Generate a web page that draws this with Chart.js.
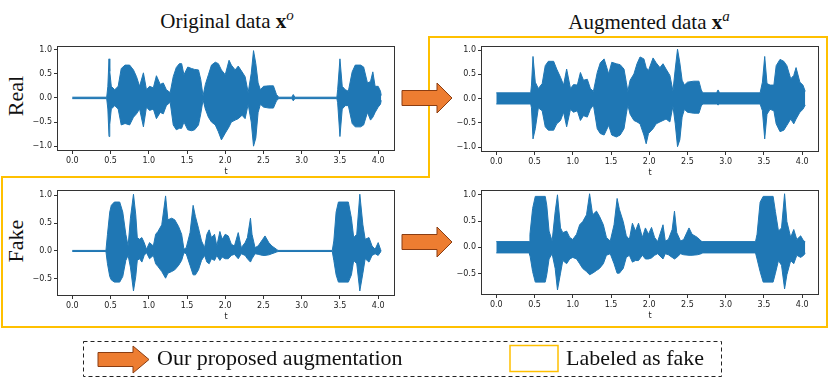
<!DOCTYPE html>
<html>
<head>
<meta charset="utf-8">
<script src="https://cdn.jsdelivr.net/npm/chart.js@4.4.1/dist/chart.umd.min.js"></script>
<style>
  body { margin: 0; background: #fff; }
  #fig { position: relative; width: 830px; height: 379px; overflow: hidden; background: #fff; }
  canvas { position: absolute; }
  .serif { position: absolute; font-family: "Liberation Serif", "Times New Roman", serif; color: #111; white-space: nowrap; }
  .title { font-size: 21px; line-height: 21px; text-align: center; width: 300px; }
  .title sup { font-size: 15px; font-style: italic; vertical-align: 8px; line-height: 0; }
  .side { font-size: 22px; line-height: 22px; transform: translate(-50%, -50%) rotate(-90deg); }
  .leg { font-size: 22px; line-height: 22px; }
  svg { position: absolute; left: 0; top: 0; }
</style>
</head>
<body>
<div id="fig">
  <div class="serif title" style="left:77px; top:11px;">Original data <b>x</b><sup>o</sup></div>
  <div class="serif title" style="left:499px; top:12px;">Augmented data <b>x</b><sup>a</sup></div>
  <div class="serif side" style="left:16px; top:96px;">Real</div>
  <div class="serif side" style="left:16px; top:241px;">Fake</div>

  <canvas id="realOrig" width="384" height="138" style="left:17px; top:39px;"></canvas>
  <canvas id="realAug" width="384" height="139" style="left:441px; top:39px;"></canvas>
  <canvas id="fakeOrig" width="384" height="139" style="left:17px; top:183px;"></canvas>
  <canvas id="fakeAug" width="384" height="138" style="left:441px; top:183px;"></canvas>

  <svg width="830" height="379">
    <polygon points="429,37 827,37 827,327 2,327 2,177 429,177" fill="none" stroke="#FFC000" stroke-width="2"/>
    <polygon points="402,90.5 437,90.5 437,83 452,98 437,113 437,105.5 402,105.5" fill="#ED7D31" stroke="#8a3d12" stroke-width="1"/>
    <polygon points="402,234.5 437,234.5 437,227 452,242 437,257 437,249.5 402,249.5" fill="#ED7D31" stroke="#8a3d12" stroke-width="1"/>
    <rect x="83.5" y="341.5" width="638" height="35" fill="none" stroke="#222" stroke-width="1" stroke-dasharray="4,3"/>
    <polygon points="98,352.5 133,352.5 133,346 149,359.5 133,373 133,366.5 98,366.5" fill="#ED7D31" stroke="#8a3d12" stroke-width="1"/>
    <rect x="510" y="345.5" width="48" height="26" fill="none" stroke="#FFC000" stroke-width="1.5"/>
  </svg>
  <div class="serif leg" style="left:157px; top:347px;">Our proposed augmentation</div>
  <div class="serif leg" style="left:566px; top:347px;">Labeled as fake</div>
</div>

<script>
// tick labels
const xTicks = [0.0, 0.5, 1.0, 1.5, 2.0, 2.5, 3.0, 3.5, 4.0]
const yTicksReal = [-1.0, -0.5, 0.0, 0.5, 1.0]
const yTicksFake = [-0.5, 0.0, 0.5, 1.0]

// real speech, original waveform envelope (time in s, upper / lower amplitude)
const realOrigT = [0.00,0.45,0.465,0.48,0.49,0.51,0.555,0.60,0.64,0.69,0.75,0.80,0.84,0.88,0.93,0.97,1.01,1.06,1.10,1.15,1.19,1.23,1.28,1.32,1.36,1.40,1.43,1.46,1.51,1.56,1.60,1.65,1.68,1.71,1.74,1.78,1.82,1.87,1.91,1.95,2.00,2.05,2.08,2.13,2.17,2.22,2.26,2.30,2.34,2.37,2.40,2.43,2.46,2.50,2.57,2.63,2.67,2.70,2.87,2.89,2.91,3.46,3.47,3.50,3.53,3.57,3.61,3.66,3.70,3.77,3.81,3.86,3.90,3.93,3.96,4.00,4.03,4.04]
const realOrigUp = [0.015,0.015,0.24,0.81,0.55,0.24,0.17,0.24,0.61,0.68,0.68,0.58,0.44,0.24,0.52,0.17,0.24,0.21,0.46,0.28,0.31,0.17,0.11,0.44,0.63,0.71,0.71,0.48,0.64,0.61,0.59,0.58,0.38,0.04,0.28,0.48,0.68,0.74,0.71,0.58,0.48,0.78,0.68,0.58,0.66,0.54,0.44,0.11,0.51,0.98,0.71,0.31,0.17,0.24,0.25,0.25,0.07,0.015,0.015,0.07,0.015,0.015,0.17,0.81,0.24,0.17,0.14,0.54,0.68,0.68,0.64,0.31,0.34,0.54,0.24,0.24,0.14,0.05]
const realOrigLow = [-0.015,-0.015,-0.23,-0.80,-0.55,-0.23,-0.16,-0.23,-0.56,-0.53,-0.56,-0.40,-0.33,-0.23,-0.60,-0.19,-0.26,-0.23,-0.43,-0.30,-0.33,-0.16,-0.09,-0.56,-0.66,-0.63,-0.63,-0.50,-0.66,-0.68,-0.66,-0.56,-0.33,-0.04,-0.23,-0.40,-0.50,-0.56,-0.70,-0.87,-0.73,-0.60,-0.50,-0.46,-0.43,-0.36,-0.43,-0.13,-0.50,-1.00,-0.83,-0.30,-0.13,-0.19,-0.21,-0.21,-0.06,-0.015,-0.015,-0.06,-0.015,-0.015,-0.10,-0.80,-0.23,-0.16,-0.16,-0.53,-0.60,-0.60,-0.56,-0.30,-0.46,-0.40,-0.30,-0.19,-0.13,-0.05]

// real speech, augmented waveform envelope
const realAugT = [0.00,0.45,0.46,0.48,0.51,0.55,0.60,0.64,0.68,0.75,0.79,0.84,0.88,0.92,0.97,1.01,1.06,1.10,1.14,1.19,1.23,1.27,1.32,1.36,1.41,1.47,1.51,1.57,1.62,1.67,1.70,1.72,1.75,1.80,1.84,1.88,1.93,1.96,1.99,2.05,2.09,2.14,2.18,2.22,2.27,2.31,2.34,2.37,2.40,2.43,2.46,2.50,2.58,2.65,2.68,2.70,2.88,2.90,2.92,3.45,3.48,3.51,3.54,3.58,3.63,3.66,3.71,3.76,3.80,3.85,3.89,3.92,3.97,4.01,4.04]
const realAugUp = [0.12,0.12,0.28,0.87,0.34,0.21,0.31,0.68,0.77,0.77,0.61,0.44,0.28,0.61,0.21,0.29,0.28,0.54,0.38,0.40,0.21,0.15,0.54,0.74,0.82,0.51,0.75,0.72,0.70,0.61,0.34,0.15,0.38,0.51,0.72,0.86,0.82,0.64,0.58,0.84,0.74,0.64,0.72,0.61,0.48,0.16,0.61,1.02,0.74,0.38,0.28,0.34,0.36,0.36,0.18,0.12,0.12,0.18,0.12,0.12,0.34,0.87,0.31,0.28,0.28,0.68,0.81,0.77,0.68,0.41,0.48,0.64,0.34,0.28,0.15]
const realAugLow = [-0.11,-0.11,-0.19,-0.83,-0.62,-0.19,-0.25,-0.58,-0.65,-0.65,-0.52,-0.45,-0.28,-0.58,-0.22,-0.28,-0.25,-0.45,-0.35,-0.38,-0.22,-0.13,-0.62,-0.72,-0.75,-0.55,-0.75,-0.79,-0.75,-0.62,-0.32,-0.13,-0.32,-0.45,-0.48,-0.52,-0.75,-0.93,-0.72,-0.62,-0.52,-0.48,-0.45,-0.42,-0.48,-0.15,-0.52,-0.99,-0.85,-0.38,-0.22,-0.28,-0.30,-0.30,-0.15,-0.11,-0.11,-0.13,-0.11,-0.11,-0.25,-0.83,-0.32,-0.22,-0.25,-0.52,-0.68,-0.65,-0.55,-0.42,-0.52,-0.42,-0.28,-0.22,-0.13]

// fake speech, original waveform envelope
const fakeOrigT = [0.00,0.44,0.46,0.49,0.51,0.55,0.62,0.66,0.70,0.73,0.76,0.80,0.83,0.85,0.88,0.91,0.94,0.97,1.01,1.06,1.09,1.12,1.17,1.22,1.25,1.30,1.34,1.39,1.43,1.46,1.49,1.54,1.58,1.61,1.65,1.69,1.73,1.76,1.79,1.82,1.86,1.89,1.93,1.96,2.00,2.04,2.08,2.12,2.17,2.21,2.26,2.29,2.33,2.35,2.39,2.43,2.49,2.52,2.57,2.61,2.67,2.69,3.40,3.42,3.45,3.48,3.61,3.65,3.68,3.72,3.76,3.80,3.83,3.88,3.92,3.96,4.00,4.03,4.04]
const fakeOrigUp = [0.01,0.01,0.30,0.70,0.82,0.88,0.88,0.70,0.30,0.09,0.59,1.02,0.65,0.24,0.21,0.24,0.15,0.03,0.15,0.09,0.30,0.35,0.47,0.99,0.56,0.59,0.56,0.44,0.30,0.03,0.06,0.33,0.82,0.62,0.41,0.18,0.06,0.30,0.38,0.24,0.30,0.09,0.35,0.21,0.30,0.27,0.12,0.09,0.33,0.06,0.15,0.24,0.59,0.30,0.06,0.09,0.21,0.27,0.15,0.09,0.03,0.01,0.01,0.18,0.70,0.88,0.88,0.59,0.24,0.30,1.02,0.47,0.21,0.24,0.09,0.03,0.15,0.03,0.01]
const fakeOrigLow = [-0.01,-0.01,-0.23,-0.46,-0.52,-0.56,-0.56,-0.46,-0.17,-0.08,-0.29,-0.72,-0.46,-0.17,-0.14,-0.20,-0.08,-0.03,-0.14,-0.08,-0.23,-0.28,-0.37,-0.49,-0.40,-0.37,-0.34,-0.26,-0.17,-0.03,-0.05,-0.26,-0.43,-0.43,-0.34,-0.17,-0.08,-0.20,-0.23,-0.14,-0.17,-0.08,-0.17,-0.11,-0.14,-0.14,-0.08,-0.06,-0.14,-0.05,-0.08,-0.14,-0.20,-0.14,-0.05,-0.06,-0.08,-0.08,-0.07,-0.05,-0.02,-0.01,-0.01,-0.17,-0.43,-0.56,-0.56,-0.43,-0.17,-0.23,-0.72,-0.40,-0.14,-0.20,-0.08,-0.05,-0.08,-0.02,-0.01]

// fake speech, augmented waveform envelope
const fakeAugT = [0.00,0.43,0.44,0.475,0.51,0.64,0.66,0.69,0.73,0.77,0.80,0.84,0.87,0.92,0.96,1.00,1.05,1.09,1.13,1.18,1.22,1.26,1.31,1.35,1.40,1.44,1.49,1.54,1.58,1.61,1.66,1.70,1.74,1.78,1.82,1.86,1.91,1.95,1.99,2.03,2.07,2.11,2.18,2.21,2.25,2.30,2.33,2.36,2.41,2.45,2.52,2.56,2.63,2.68,2.70,3.39,3.41,3.45,3.49,3.62,3.65,3.69,3.73,3.77,3.80,3.85,3.89,3.93,3.98,4.02,4.04]
const fakeAugUp = [0.11,0.11,0.25,0.74,0.97,0.97,0.80,0.31,0.12,0.68,1.00,0.37,0.28,0.31,0.19,0.15,0.25,0.43,0.49,0.62,1.02,0.62,0.69,0.59,0.43,0.19,0.12,0.43,0.93,0.72,0.49,0.22,0.15,0.46,0.31,0.46,0.19,0.37,0.25,0.38,0.19,0.11,0.43,0.12,0.15,0.34,0.69,0.28,0.12,0.15,0.37,0.25,0.19,0.12,0.11,0.11,0.25,0.86,0.97,0.97,0.68,0.31,0.37,1.02,0.49,0.19,0.34,0.15,0.22,0.12,0.11]
const fakeAugLow = [-0.105,-0.105,-0.15,-0.46,-0.66,-0.66,-0.52,-0.22,-0.12,-0.40,-0.81,-0.49,-0.25,-0.31,-0.22,-0.19,-0.22,-0.31,-0.40,-0.46,-0.52,-0.49,-0.44,-0.40,-0.31,-0.15,-0.12,-0.31,-0.49,-0.49,-0.40,-0.19,-0.15,-0.28,-0.25,-0.25,-0.15,-0.22,-0.22,-0.20,-0.15,-0.12,-0.22,-0.12,-0.14,-0.19,-0.22,-0.19,-0.12,-0.14,-0.15,-0.15,-0.14,-0.12,-0.105,-0.105,-0.22,-0.46,-0.66,-0.66,-0.49,-0.25,-0.34,-0.79,-0.52,-0.25,-0.31,-0.15,-0.19,-0.15,-0.105]

const waveColor = '#1f77b4'
const axisColor = '#333333'
const tickFont = {family: 'DejaVu Sans', size: 8}

function fmt(v) {
    return v.toFixed(1).replace('-', '\u2212')
}

function points(t, v) {
    return t.map((x, i) => ({x: x, y: v[i]}))
}

// frame round the plot area, like matplotlib's four spines
const framePlugin = {
    id: 'frame',
    afterDraw(chart) {
        let a = chart.chartArea
        let ctx = chart.ctx
        ctx.save()
        ctx.strokeStyle = axisColor
        ctx.lineWidth = 1
        ctx.strokeRect(Math.round(a.left) + 0.5, Math.round(a.top) + 0.5,
            Math.round(a.right - a.left) - 1, Math.round(a.bottom - a.top) - 1)
        ctx.restore()
    }
}

function drawWave(canvasId, t, up, low, yMin, yMax, yTicks, xMax) {
    let ctx = document.getElementById(canvasId).getContext('2d')
    new Chart(ctx, {
        type: 'line',
        data: {
            datasets: [
                {data: points(t, up), borderColor: waveColor, backgroundColor: waveColor, borderWidth: 1, fill: '+1'},
                {data: points(t, low), borderColor: waveColor, backgroundColor: waveColor, borderWidth: 1, fill: false}
            ]
        },
        options: {
            responsive: false,
            animation: false,
            devicePixelRatio: 1,
            layout: {padding: {top: 4, right: 6, left: 0, bottom: 0}},
            elements: {point: {radius: 0}, line: {tension: 0}},
            plugins: {legend: {display: false}, tooltip: {enabled: false}},
            scales: {
                x: {
                    type: 'linear', min: -0.2, max: xMax,
                    afterFit: s => { s.height = 26 },
                    afterBuildTicks: s => { s.ticks = xTicks.map(v => ({value: v})) },
                    ticks: {callback: fmt, font: tickFont, color: '#222', padding: 2, maxRotation: 0, autoSkip: false},
                    grid: {drawOnChartArea: false, tickLength: 3, color: axisColor},
                    border: {display: false},
                    title: {display: true, text: 't', font: tickFont, color: '#222', padding: 0}
                },
                y: {
                    type: 'linear', min: yMin, max: yMax,
                    afterFit: s => { s.width = 40 },
                    afterBuildTicks: s => { s.ticks = yTicks.map(v => ({value: v})) },
                    ticks: {callback: fmt, font: tickFont, color: '#222', padding: 2, autoSkip: false},
                    grid: {drawOnChartArea: false, tickLength: 3, color: axisColor},
                    border: {display: false}
                }
            }
        },
        plugins: [framePlugin]
    })
}

drawWave('realOrig', realOrigT, realOrigUp, realOrigLow, -1.1, 1.08, yTicksReal, 4.22)
drawWave('realAug', realAugT, realAugUp, realAugLow, -1.1, 1.09, yTicksReal, 4.22)
drawWave('fakeOrig', fakeOrigT, fakeOrigUp, fakeOrigLow, -0.81, 1.1, yTicksFake, 4.22)
drawWave('fakeAug', fakeAugT, fakeAugUp, fakeAugLow, -0.905, 1.095, yTicksFake, 4.22)
</script>
</body>
</html>
